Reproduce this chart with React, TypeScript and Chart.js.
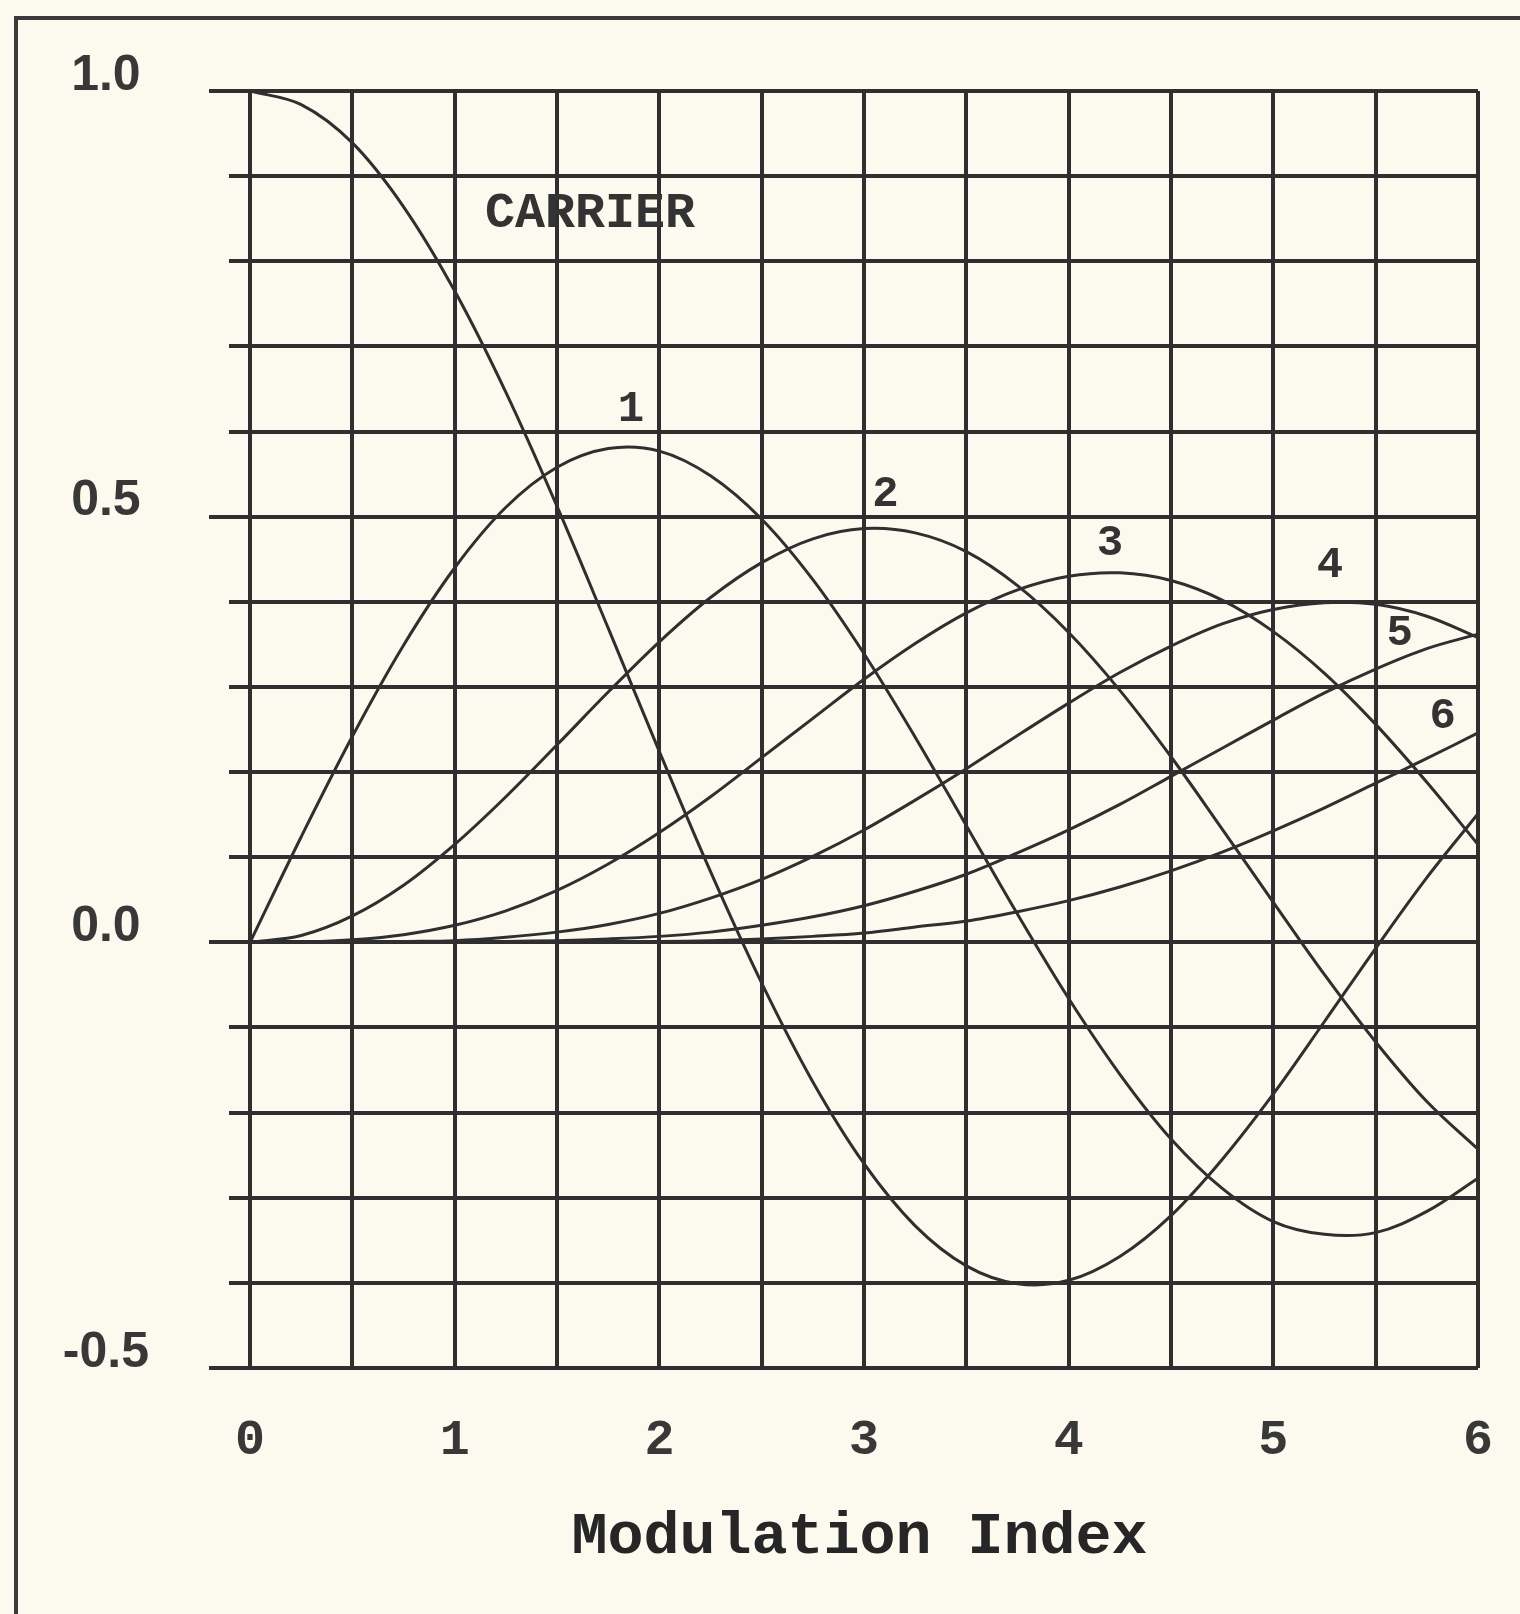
import React, { useEffect, useRef } from 'react';
import { Chart, registerables } from 'chart.js';

Chart.register(...registerables);

// Modulation index sample points (x axis)
const modulationIndex = [0, 0.25, 0.5, 0.75, 1, 1.25, 1.5, 1.75, 2, 2.25, 2.5, 2.75, 3, 3.25, 3.5, 3.75, 4, 4.25, 4.5, 4.75, 5, 5.25, 5.5, 5.75, 6];

// Relative amplitudes
const carrier = [1.0, 0.984, 0.939, 0.864, 0.765, 0.646, 0.512, 0.369, 0.224, 0.083, -0.048, -0.164, -0.260, -0.333, -0.380, -0.401, -0.397, -0.369, -0.321, -0.255, -0.178, -0.093, -0.007, 0.076, 0.151];
const sideband1 = [0, 0.124, 0.242, 0.349, 0.440, 0.511, 0.558, 0.580, 0.577, 0.548, 0.497, 0.426, 0.339, 0.241, 0.137, 0.033, -0.066, -0.155, -0.231, -0.289, -0.328, -0.343, -0.341, -0.316, -0.277];
const sideband2 = [0, 0.008, 0.031, 0.067, 0.115, 0.171, 0.232, 0.294, 0.353, 0.405, 0.446, 0.474, 0.486, 0.481, 0.459, 0.419, 0.364, 0.296, 0.218, 0.133, 0.047, -0.038, -0.117, -0.187, -0.243];
const sideband3 = [0, 0.000, 0.003, 0.009, 0.020, 0.037, 0.061, 0.092, 0.129, 0.171, 0.217, 0.263, 0.309, 0.351, 0.387, 0.414, 0.430, 0.434, 0.425, 0.402, 0.365, 0.316, 0.256, 0.188, 0.115];
const sideband4 = [0, 0, 0.000, 0.001, 0.002, 0.006, 0.012, 0.021, 0.034, 0.052, 0.074, 0.101, 0.132, 0.167, 0.204, 0.243, 0.281, 0.317, 0.348, 0.374, 0.391, 0.399, 0.397, 0.383, 0.358];
const sideband5 = [0, 0, 0, 0.000, 0.000, 0.001, 0.002, 0.004, 0.007, 0.012, 0.020, 0.030, 0.043, 0.060, 0.080, 0.105, 0.132, 0.162, 0.195, 0.228, 0.261, 0.293, 0.321, 0.345, 0.362];
const sideband6 = [0, 0, 0, 0, 0.000, 0.000, 0.000, 0.001, 0.001, 0.002, 0.004, 0.007, 0.011, 0.018, 0.025, 0.036, 0.049, 0.065, 0.084, 0.106, 0.131, 0.158, 0.187, 0.216, 0.246];

const seriesList = [carrier, sideband1, sideband2, sideband3, sideband4, sideband5, sideband6];

// Axis ticks
const xTickValues = [0, 0.5, 1, 1.5, 2, 2.5, 3, 3.5, 4, 4.5, 5, 5.5, 6];
const xLabelValues = [0, 1, 2, 3, 4, 5, 6];
const yLabelValues = [-0.5, 0, 0.5, 1.0];

// Curve labels (anchored in data coordinates)
const curveLabels = ['CARRIER', '1', '2', '3', '4', '5', '6'];
const curveLabelX = [1.661, 1.861, 3.105, 4.201, 5.276, 5.618, 5.828];
const curveLabelY = [0.8555, 0.625, 0.525, 0.468, 0.442, 0.362, 0.265];

const axisTitle = 'Modulation Index';

const INK = '#2f2f2f';
const PAPER = '#fcfaef';

const isLabelValue = (list: number[], v: number) => list.some((t) => Math.abs(t - v) < 1e-6);

export default function App() {
  const canvasRef = useRef<HTMLCanvasElement | null>(null);

  useEffect(() => {
    const canvas = canvasRef.current;
    if (!canvas) return;

    const decorPlugin = {
      id: 'decor',
      beforeDraw(chart: any) {
        const { ctx, width, height } = chart;
        ctx.save();
        ctx.fillStyle = PAPER;
        ctx.fillRect(0, 0, width, height);
        // outer frame (left and top edges)
        ctx.strokeStyle = '#3a3a3a';
        ctx.lineWidth = 4;
        ctx.beginPath();
        ctx.moveTo(16, height);
        ctx.lineTo(16, 18);
        ctx.lineTo(width, 18);
        ctx.stroke();
        ctx.restore();
      },
      afterDatasetsDraw(chart: any) {
        const { ctx, chartArea } = chart;
        const xs = chart.scales.x;
        const ys = chart.scales.y;
        ctx.save();
        ctx.fillStyle = '#333';
        ctx.textAlign = 'center';
        ctx.textBaseline = 'middle';
        curveLabels.forEach((txt, i) => {
          ctx.font = i === 0 ? 'bold 50px "Liberation Mono"' : 'bold 44px "Liberation Mono"';
          ctx.fillText(txt, xs.getPixelForValue(curveLabelX[i]), ys.getPixelForValue(curveLabelY[i]));
        });
        // axis title
        ctx.font = 'bold 60px "Liberation Mono"';
        ctx.fillStyle = '#262626';
        const cx = (chartArea.left + chartArea.right) / 2 + 6;
        ctx.fillText(axisTitle, cx, chartArea.bottom + 170);
        ctx.restore();
      },
    };

    const datasets = seriesList.map((vals, i) => ({
      label: i === 0 ? 'CARRIER' : String(i),
      data: modulationIndex.map((x, k) => ({ x, y: vals[k] })),
      borderColor: INK,
      borderWidth: 3,
      pointRadius: 0,
      fill: false,
      tension: 0.35,
      clip: 6,
    }));

    const chart = new Chart(canvas, {
      type: 'line',
      data: { datasets },
      options: {
        animation: false,
        responsive: false,
        devicePixelRatio: 1,
        layout: { padding: { left: 0, right: 42, top: 91, bottom: 0 } },
        plugins: {
          legend: { display: false },
          tooltip: { enabled: false },
          title: { display: false },
        },
        scales: {
          x: {
            type: 'linear',
            min: -0.103,
            max: 6,
            afterBuildTicks: (scale: any) => {
              scale.ticks = xTickValues.map((v) => ({ value: v }));
            },
            afterFit: (scale: any) => {
              scale.height = 246;
              scale.paddingLeft = 0;
              scale.paddingRight = 0;
            },
            border: { display: false },
            grid: { color: INK, lineWidth: 4, drawTicks: false },
            ticks: {
              autoSkip: false,
              maxRotation: 0,
              padding: 43,
              color: '#383838',
              font: { family: '"Liberation Mono"', size: 50, weight: 'bold' },
              callback: (v: any) => (isLabelValue(xLabelValues, Number(v)) ? String(Number(v)) : ''),
            },
          },
          y: {
            type: 'linear',
            min: -0.5,
            max: 1.0,
            afterFit: (scale: any) => {
              scale.width = 229;
              scale.paddingTop = 0;
              scale.paddingBottom = 0;
            },
            border: { display: false },
            grid: {
              color: INK,
              lineWidth: 4,
              drawTicks: true,
              tickLength: 20,
              tickWidth: 4,
              tickColor: (ctx: any) => (ctx.tick && isLabelValue(yLabelValues, ctx.tick.value) ? INK : 'rgba(0,0,0,0)'),
            },
            ticks: {
              stepSize: 0.1,
              autoSkip: false,
              crossAlign: 'center',
              padding: 60,
              labelOffset: -15,
              color: '#383838',
              font: { family: '"Liberation Sans"', size: 50, weight: 'bold' },
              callback: (v: any) => (isLabelValue(yLabelValues, Number(v)) ? Number(v).toFixed(1) : ''),
            },
          },
        },
      },
      plugins: [decorPlugin],
    });

    return () => chart.destroy();
  }, []);

  return (
    <div style={{ position: 'absolute', left: 0, top: 0, width: 1520, height: 1614 }}>
      <canvas ref={canvasRef} width={1520} height={1614} style={{ display: 'block', width: 1520, height: 1614 }} />
    </div>
  );
}
